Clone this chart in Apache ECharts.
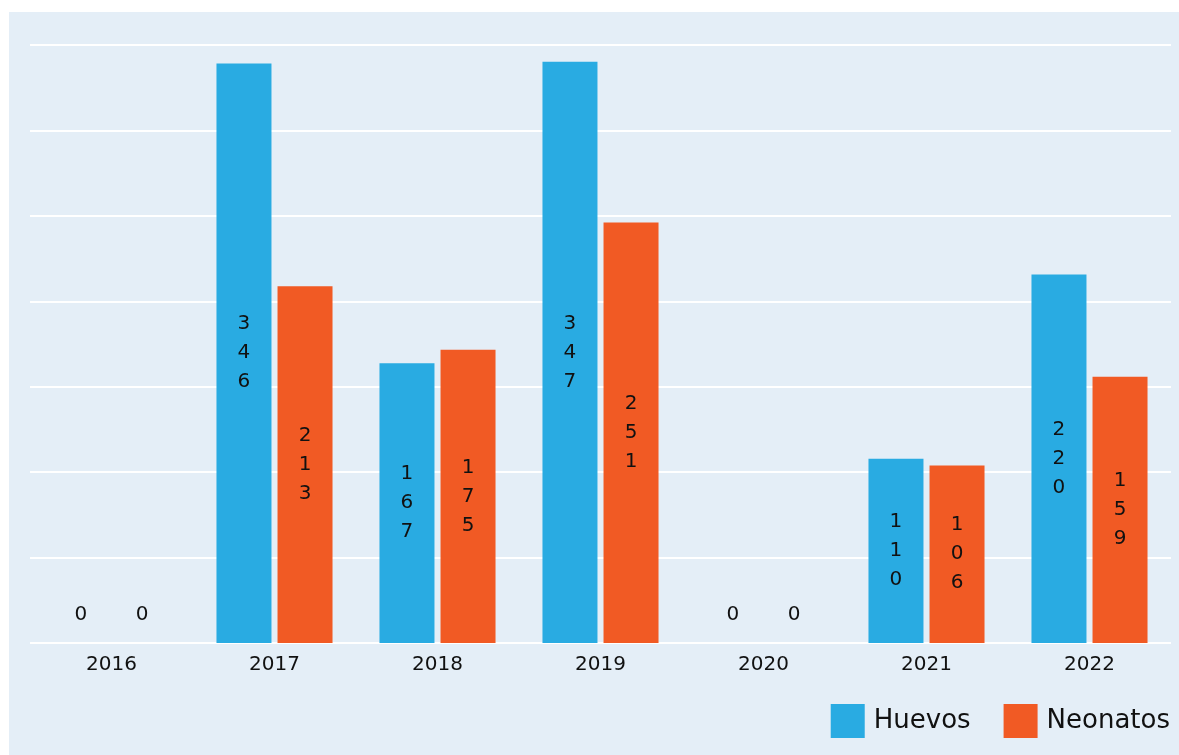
<!DOCTYPE html>
<html>
<head>
<meta charset="utf-8">
<script src="https://cdn.jsdelivr.net/npm/echarts@6/dist/echarts.min.js"></script>
<style>
    html, body { margin: 0; padding: 0; background: #ffffff; }
    #chart { position: absolute; left: 9px; top: 12px; width: 1170px; height: 743px; }
</style>
</head>
<body>
<div id="chart"></div>
<script>
    // datos
    var years = ['2016', '2017', '2018', '2019', '2020', '2021', '2022'];
    var huevos = [0, 346, 167, 347, 0, 110, 220];
    var neonatos = [0, 213, 175, 251, 0, 106, 159];

    var font = 'DejaVu Sans';

    // etiqueta vertical: un dígito por línea
    var verticalLabel = function (params) {
        return String(params.value).split('').join('\n');
    };

    // los ceros van encima de la línea base
    var buildData = function (values) {
        return values.map(function (v) {
            if (v === 0) {
                return { value: v, label: { position: 'top', distance: 14 } };
            }
            return v;
        });
    };

    var barLabel = {
        show: true,
        position: 'inside',
        color: '#111111',
        fontFamily: font,
        fontSize: 20,
        lineHeight: 29,
        formatter: verticalLabel
    };

    var option = {
        backgroundColor: '#e4eef7',
        color: ['#29abe2', '#f15a24'],
        animation: false,
        legend: {
            right: 9,
            top: 692,
            padding: 0,
            itemWidth: 34,
            itemHeight: 34,
            itemGap: 33,
            icon: 'rect',
            data: ['Huevos', 'Neonatos'],
            textStyle: {
                fontFamily: font,
                fontSize: 26,
                color: '#111111',
                padding: [0, 0, 0, 4]
            }
        },
        grid: {
            left: 21,
            right: 8,
            top: 33,
            bottom: 112
        },
        xAxis: {
            type: 'category',
            data: years,
            axisLine: { show: false },
            axisTick: { show: false },
            axisLabel: {
                fontFamily: font,
                fontSize: 20,
                color: '#111111',
                margin: 12
            }
        },
        yAxis: {
            type: 'value',
            min: 0,
            max: 357,
            interval: 51,
            axisLabel: { show: false },
            axisLine: { show: false },
            axisTick: { show: false },
            splitLine: {
                lineStyle: { color: '#ffffff', width: 2 }
            }
        },
        series: [
            {
                name: 'Huevos',
                type: 'bar',
                barWidth: 55,
                barGap: '11%',
                data: buildData(huevos),
                label: barLabel
            },
            {
                name: 'Neonatos',
                type: 'bar',
                barWidth: 55,
                data: buildData(neonatos),
                label: barLabel
            }
        ]
    };

    var chart = echarts.init(document.getElementById('chart'));
    chart.setOption(option);
</script>
</body>
</html>
